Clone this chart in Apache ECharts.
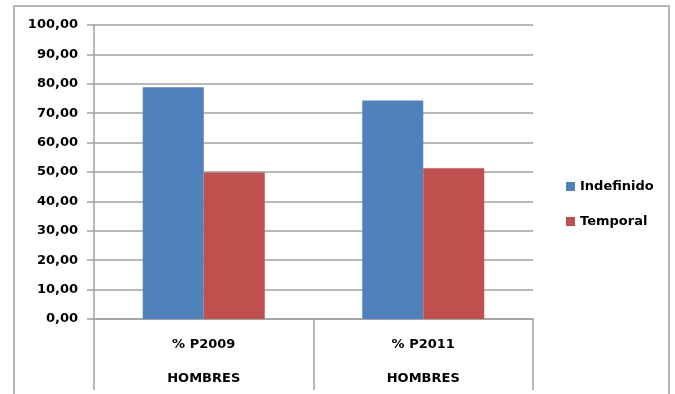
<!DOCTYPE html>
<html>
<head>
<meta charset="utf-8">
<script src="https://cdn.jsdelivr.net/npm/echarts@6/dist/echarts.min.js"></script>
<style>
  html, body { margin: 0; padding: 0; background: #fff; }
  #chart { width: 675px; height: 394px; }
</style>
</head>
<body>
<div id="chart"></div>
<script>
// Categories: period label and group label
const periods = ['% P2009', '% P2011'];
const groupLabel = 'HOMBRES';
// Percentages per contract type
const indefinido = [78.8, 74.3];
const temporal = [49.8, 51.3];
const seriesNames = ['Indefinido', 'Temporal'];

const FONT = '"DejaVu Sans", sans-serif';
const GREY = '#a0a0a0';

const chart = echarts.init(document.getElementById('chart'));
chart.setOption({
  animation: false,
  backgroundColor: '#fff',
  graphic: [{
    type: 'rect',
    shape: { x: 14, y: 6, width: 655, height: 420 },
    style: { fill: 'none', stroke: '#b3b3b3', lineWidth: 2 },
    z: -1
  }],
  legend: {
    orient: 'vertical',
    left: 561,
    top: 175,
    itemWidth: 9,
    itemHeight: 9,
    itemGap: 22,
    itemTextGap: 4,
    icon: 'rect',
    data: seriesNames,
    textStyle: { fontFamily: FONT, fontWeight: 'bold', fontSize: 13, color: '#000' }
  },
  grid: { left: 94, right: 142, top: 25, bottom: 75, containLabel: false, outerBoundsMode: 'none' },
  xAxis: {
    type: 'category',
    data: periods,
    axisLine: { show: true, lineStyle: { color: GREY, width: 1.5 } },
    axisTick: { show: true, length: 71, lineStyle: { color: GREY, width: 1.5 } },
    axisLabel: {
      fontFamily: FONT, fontWeight: 'bold', fontSize: 13, color: '#000',
      lineHeight: 34, margin: 9,
      formatter: v => v + '\n' + groupLabel
    }
  },
  yAxis: {
    type: 'value',
    min: 0, max: 100, interval: 10,
    axisLine: { show: true, lineStyle: { color: GREY, width: 1.5 } },
    axisTick: { show: true, length: 7, lineStyle: { color: GREY, width: 1.5 } },
    splitLine: { show: true, lineStyle: { color: GREY, width: 1.5 } },
    axisLabel: {
      fontFamily: FONT, fontWeight: 'bold', fontSize: 13, color: '#000', margin: 16,
      formatter: v => v.toFixed(2).replace('.', ',')
    }
  },
  series: [
    { name: seriesNames[0], type: 'bar', data: indefinido, barWidth: 61, barGap: '0%',
      itemStyle: { color: '#4f81bd' } },
    { name: seriesNames[1], type: 'bar', data: temporal, barWidth: 61, barGap: '0%',
      itemStyle: { color: '#c0504d' } }
  ]
});
</script>
</body>
</html>
